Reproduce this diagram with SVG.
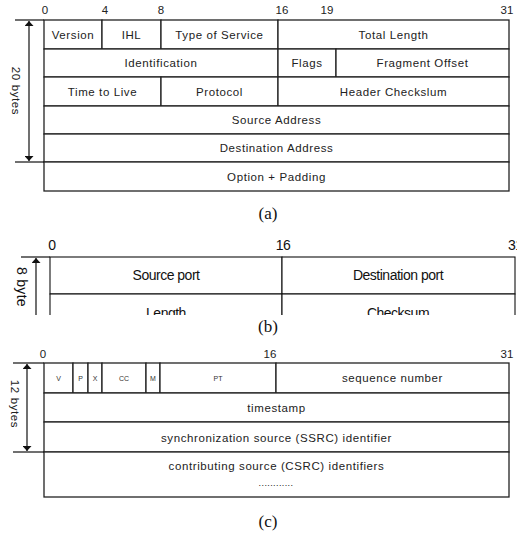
<svg xmlns="http://www.w3.org/2000/svg" width="517" height="533" viewBox="0 0 517 533">
<style>
  .cell{fill:#fff;stroke:#222;stroke-width:1.3}
  .ln{stroke:#111;stroke-width:1.2;fill:none}
  .t{font-family:"Liberation Sans",Arial,sans-serif;font-size:11.5px;letter-spacing:0.6px;fill:#222;text-anchor:middle}
  .n{font-family:"Liberation Sans",Arial,sans-serif;font-size:11.5px;fill:#222;text-anchor:middle}
  .s{font-family:"Liberation Sans",Arial,sans-serif;font-size:7px;fill:#333;text-anchor:middle}
  .b{font-family:"Liberation Sans",Arial,sans-serif;font-size:14px;letter-spacing:-0.5px;fill:#111;text-anchor:middle}
  .cap{font-family:"Liberation Serif","Times New Roman",serif;font-size:17px;fill:#111;text-anchor:middle}
</style>
<defs>
  <marker id="ah" viewBox="0 0 10 10" refX="10" refY="5" markerWidth="5" markerHeight="9" orient="auto-start-reverse" markerUnits="userSpaceOnUse" preserveAspectRatio="none">
    <path d="M0,0 L10,5 L0,10 Z" fill="#111"/>
  </marker>
  <clipPath id="clipB"><rect x="0" y="225" width="517" height="90"/></clipPath>
</defs>
<rect width="517" height="533" fill="#fff"/>

<!-- ===== (a) IPv4 header ===== -->
<g id="a-bits">
  <text class="n" x="45" y="14">0</text>
  <text class="n" x="105" y="14">4</text>
  <text class="n" x="161" y="14">8</text>
  <text class="n" x="282" y="14">16</text>
  <text class="n" x="327" y="14">19</text>
  <text class="n" x="507" y="14">31</text>
</g>
<g id="a-version"><rect class="cell" x="44" y="20" width="58" height="29"/><text class="t" x="73" y="38.5">Version</text></g>
<g id="a-ihl"><rect class="cell" x="102" y="20" width="59" height="29"/><text class="t" x="131.5" y="38.5">IHL</text></g>
<g id="a-tos"><rect class="cell" x="161" y="20" width="117" height="29"/><text class="t" x="219.5" y="38.5">Type of Service</text></g>
<g id="a-totlen"><rect class="cell" x="278" y="20" width="231" height="29"/><text class="t" x="393.5" y="38.5">Total Length</text></g>
<g id="a-ident"><rect class="cell" x="44" y="49" width="234" height="28"/><text class="t" x="161" y="67">Identification</text></g>
<g id="a-flags"><rect class="cell" x="278" y="49" width="58" height="28"/><text class="t" x="307" y="67">Flags</text></g>
<g id="a-fragoff"><rect class="cell" x="336" y="49" width="173" height="28"/><text class="t" x="422.5" y="67">Fragment Offset</text></g>
<g id="a-ttl"><rect class="cell" x="44" y="77" width="117" height="29"/><text class="t" x="102.5" y="95.5">Time to Live</text></g>
<g id="a-proto"><rect class="cell" x="161" y="77" width="117" height="29"/><text class="t" x="219.5" y="95.5">Protocol</text></g>
<g id="a-hcs"><rect class="cell" x="278" y="77" width="231" height="29"/><text class="t" x="393.5" y="95.5">Header Checkslum</text></g>
<g id="a-src"><rect class="cell" x="44" y="106" width="465" height="28"/><text class="t" x="276.5" y="124">Source Address</text></g>
<g id="a-dst"><rect class="cell" x="44" y="134" width="465" height="28"/><text class="t" x="276.5" y="152">Destination Address</text></g>
<g id="a-opt"><rect class="cell" x="44" y="162" width="465" height="29"/><text class="t" x="276.5" y="180.5">Option + Padding</text></g>
<g id="a-dim">
  <line class="ln" x1="15" y1="20" x2="44" y2="20"/>
  <line class="ln" x1="15" y1="162" x2="44" y2="162"/>
  <text class="t" transform="translate(12,91) rotate(90)">20 bytes</text>
</g>
<text class="cap" x="268" y="219">(a)</text>

<!-- ===== (b) UDP header (clipped) ===== -->
<g clip-path="url(#clipB)">
  <g id="b-bits">
    <text class="b" x="52" y="250">0</text>
    <text class="b" x="283" y="250">16</text>
    <text class="b" x="508" y="250" style="text-anchor:start">31</text>
  </g>
  <g id="b-srcport"><rect class="cell" x="50" y="257" width="232" height="37" style="stroke:#111;stroke-width:1.1"/><text class="b" x="166" y="280">Source port</text></g>
  <g id="b-dstport"><rect class="cell" x="282" y="257" width="233" height="37" style="stroke:#111;stroke-width:1.1"/><text class="b" x="398" y="280">Destination port</text></g>
  <g id="b-length"><rect class="cell" x="50" y="294" width="232" height="37" style="stroke:#111;stroke-width:1.1"/><text class="b" x="166" y="318">Length</text></g>
  <g id="b-checksum"><rect class="cell" x="282" y="294" width="233" height="37" style="stroke:#111;stroke-width:1.1"/><text class="b" x="398" y="318">Checksum</text></g>
  <g id="b-dim">
    <line class="ln" x1="21" y1="257" x2="50" y2="257"/>
    <text class="b" transform="translate(17,267) rotate(90)" style="text-anchor:start;letter-spacing:0.3px">8 byte</text>
  </g>
</g>
<text class="cap" x="268" y="332">(b)</text>

<!-- ===== (c) RTP header ===== -->
<g id="c-bits">
  <text class="n" x="43" y="358">0</text>
  <text class="n" x="270" y="358">16</text>
  <text class="n" x="507" y="358">31</text>
</g>
<g id="c-v"><rect class="cell" x="44" y="363" width="29" height="30"/><text class="s" x="58.5" y="381">V</text></g>
<g id="c-p"><rect class="cell" x="73" y="363" width="15" height="30"/><text class="s" x="80.5" y="381">P</text></g>
<g id="c-x"><rect class="cell" x="88" y="363" width="14" height="30"/><text class="s" x="95" y="381">X</text></g>
<g id="c-cc"><rect class="cell" x="102" y="363" width="44" height="30"/><text class="s" x="124" y="381">CC</text></g>
<g id="c-m"><rect class="cell" x="146" y="363" width="14" height="30"/><text class="s" x="153" y="381">M</text></g>
<g id="c-pt"><rect class="cell" x="160" y="363" width="116" height="30"/><text class="s" x="218" y="381">PT</text></g>
<g id="c-seq"><rect class="cell" x="276" y="363" width="233" height="30"/><text class="t" x="392.5" y="382">sequence number</text></g>
<g id="c-ts"><rect class="cell" x="44" y="393" width="465" height="29"/><text class="t" x="276.5" y="412">timestamp</text></g>
<g id="c-ssrc"><rect class="cell" x="44" y="422" width="465" height="30"/><text class="t" x="276.5" y="441.5">synchronization source (SSRC) identifier</text></g>
<g id="c-csrc"><rect class="cell" x="44" y="452" width="465" height="45"/><text class="t" x="276.5" y="470">contributing source (CSRC) identifiers</text><text class="t" x="276" y="486" style="letter-spacing:0.4px;font-size:9px">............</text></g>
<g id="c-dim">
  <line class="ln" x1="13" y1="363" x2="44" y2="363"/>
  <line class="ln" x1="13" y1="452" x2="44" y2="452"/>
  <text class="t" transform="translate(11,404) rotate(90)">12 bytes</text>
</g>
<text class="cap" x="268" y="527">(c)</text>

<!-- connectors: dimension arrows -->
<g id="connectors">
  <line class="ln" x1="29" y1="21" x2="29" y2="161" marker-start="url(#ah)" marker-end="url(#ah)"/>
  <line class="ln" x1="36" y1="258" x2="36" y2="315" marker-start="url(#ah)" clip-path="url(#clipB)"/>
  <line class="ln" x1="27" y1="364" x2="27" y2="451" marker-start="url(#ah)" marker-end="url(#ah)"/>
</g>
</svg>
